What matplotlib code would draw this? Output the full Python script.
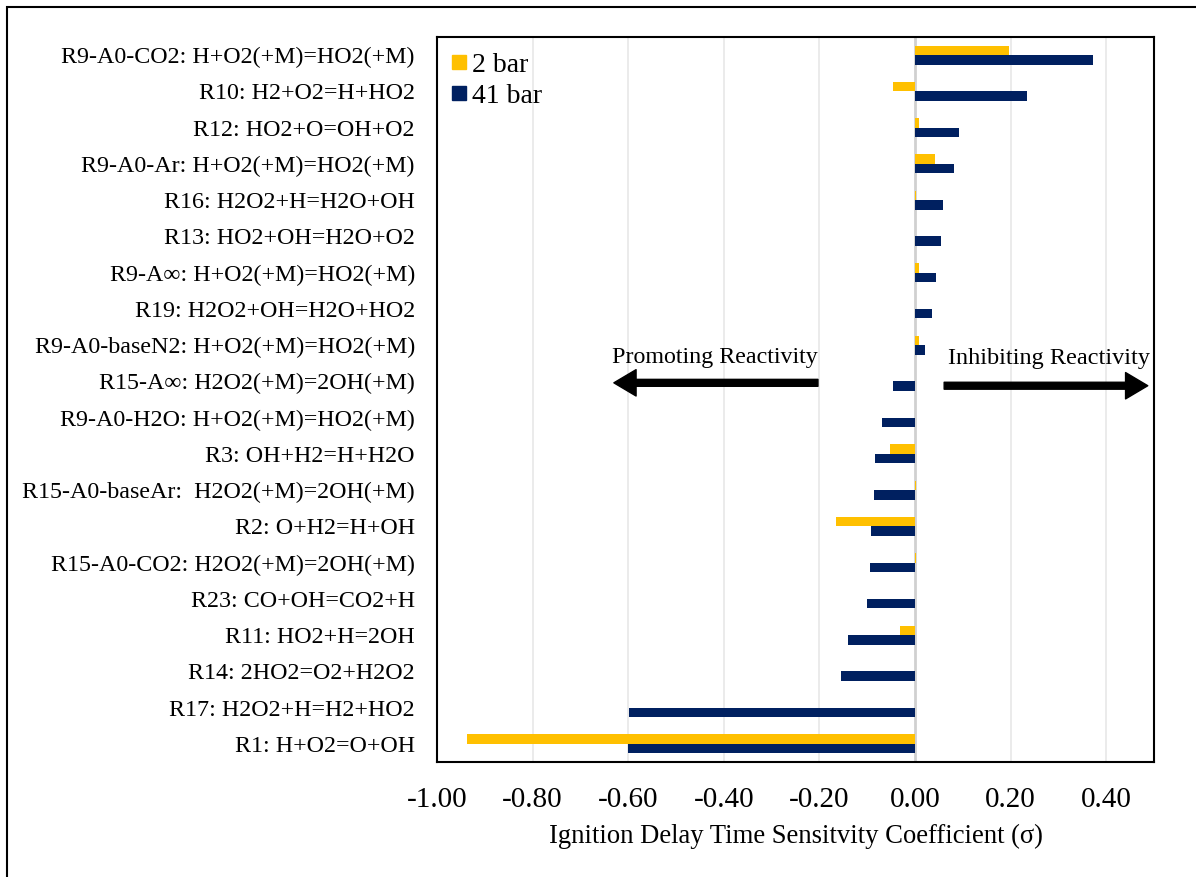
import numpy as np
import matplotlib
matplotlib.use("Agg")
from matplotlib import pyplot as plt
from matplotlib.lines import Line2D
from matplotlib.patches import Rectangle

# reactions, listed top to bottom
reactions = [
    "R9-A0-CO2: H+O2(+M)=HO2(+M)",
    "R10: H2+O2=H+HO2",
    "R12: HO2+O=OH+O2",
    "R9-A0-Ar: H+O2(+M)=HO2(+M)",
    "R16: H2O2+H=H2O+OH",
    "R13: HO2+OH=H2O+O2",
    "R9-A\u221e: H+O2(+M)=HO2(+M)",
    "R19: H2O2+OH=H2O+HO2",
    "R9-A0-baseN2: H+O2(+M)=HO2(+M)",
    "R15-A\u221e: H2O2(+M)=2OH(+M)",
    "R9-A0-H2O: H+O2(+M)=HO2(+M)",
    "R3: OH+H2=H+H2O",
    "R15-A0-baseAr:  H2O2(+M)=2OH(+M)",
    "R2: O+H2=H+OH",
    "R15-A0-CO2: H2O2(+M)=2OH(+M)",
    "R23: CO+OH=CO2+H",
    "R11: HO2+H=2OH",
    "R14: 2HO2=O2+H2O2",
    "R17: H2O2+H=H2+HO2",
    "R1: H+O2=O+OH",
]

sens_2bar = [0.197, -0.047, 0.008, 0.041, 0.003, 0.0, 0.008, 0.0, 0.009, 0.0,
             0.0, -0.052, 0.003, -0.166, 0.003, 0.0, -0.031, 0.0, 0.0, -0.937]
sens_41bar = [0.373, 0.234, 0.093, 0.082, 0.059, 0.055, 0.043, 0.036, 0.021, -0.047,
              -0.069, -0.084, -0.086, -0.093, -0.094, -0.100, -0.141, -0.154, -0.599, -0.600]

xticks = [-1.0, -0.8, -0.6, -0.4, -0.2, 0.0, 0.2, 0.4]

GOLD = "#FFC000"
NAVY = "#002060"

plt.rcParams["font.family"] = ["Liberation Serif", "DejaVu Serif"]

fig = plt.figure(figsize=(11.96, 8.77), dpi=100)
ax = fig.add_axes([437 / 1196, 1 - 762 / 877, (1154 - 437) / 1196, (762 - 37) / 877])

y = np.arange(len(reactions))
h = 0.26
ax.barh(y - h / 2, sens_2bar, height=h, color=GOLD, zorder=3)
ax.barh(y + h / 2, sens_41bar, height=h, color=NAVY, zorder=3)

ax.set_ylim(len(reactions) - 0.5, -0.5)
ax.set_xlim(-1.0, 0.5)
ax.set_yticks(y)
ax.set_yticklabels(reactions, fontsize=17.3)
ax.set_xticks(xticks)
ax.set_xticklabels(["{:.2f}".format(v) for v in xticks], fontsize=21)
ax.tick_params(axis="both", length=0)
ax.tick_params(axis="y", pad=16)
ax.tick_params(axis="x", pad=18)

for v in xticks:
    if v != 0:
        ax.axvline(v, color="#e8e8e8", lw=1.2, zorder=1)
ax.axvline(0, color="#d0d0d0", lw=2, zorder=2)

for s in ax.spines.values():
    s.set_linewidth(1.5)
    s.set_color("black")

ax.set_xlabel("Ignition Delay Time Sensitvity Coefficient (\u03c3)", fontsize=19.2, labelpad=8)

handles = [Line2D([], [], ls="none", marker="s", ms=10, color=GOLD),
           Line2D([], [], ls="none", marker="s", ms=10, color=NAVY)]
ax.legend(handles, ["2 bar", "41 bar"], loc="upper left", frameon=False, fontsize=20,
          handlelength=0.5, handletextpad=0.2, labelspacing=0.2,
          borderaxespad=0.15, bbox_to_anchor=(0.0, 1.0))

# direction arrows
ax.text(-0.418, 0.5586, "Promoting Reactivity", transform=ax.get_xaxis_transform(),
        ha="center", va="center", fontsize=17.3)
ax.text(0.280, 0.557, "Inhibiting Reactivity", transform=ax.get_xaxis_transform(),
        ha="center", va="center", fontsize=17.5)
arrow = dict(width=5, headwidth=19, headlength=16, color="black")
ax.annotate("", xy=(-0.630, 0.523), xytext=(-0.203, 0.523),
            xycoords=("data", "axes fraction"), arrowprops=arrow)
ax.annotate("", xy=(0.487, 0.519), xytext=(0.061, 0.519),
            xycoords=("data", "axes fraction"), arrowprops=arrow)

# outer frame, cut by the image edge on the right and bottom
fig.patches.append(Rectangle((7 / 1196, -0.2), 1.3, 1.2 - 7 / 877, transform=fig.transFigure,
                             fill=False, lw=1.5, edgecolor="black"))

fig.savefig("out.png", dpi=100)
